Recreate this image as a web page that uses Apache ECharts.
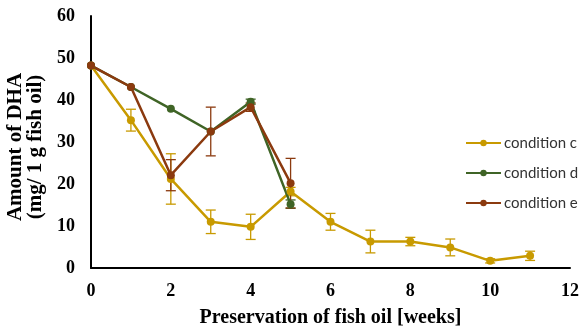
<!DOCTYPE html>
<html><head><meta charset="utf-8">
<script src="https://cdn.jsdelivr.net/npm/echarts@6/dist/echarts.min.js"></script>
<style>html,body{margin:0;padding:0;background:#fff}#c{width:582px;height:329px}</style>
</head><body><div id="c"></div>
<script>
var weeksC = [0,1,2,3,4,5,6,7,8,9,10,11];
var valuesC = [48.2,35.2,21.2,11.0,9.8,18.2,11.0,6.3,6.3,4.9,1.7,2.9];
var errC = [0,2.6,6.0,2.8,3.0,1.0,2.0,2.7,1.0,2.0,0.5,1.1];
var weeksD = [0,1,2,3,4,5];
var valuesD = [48.2,43.1,37.9,32.5,39.6,15.2];
var errD = [0,0,0,0,0.6,1.0];
var weeksE = [0,1,2,3,4,5];
var valuesE = [48.2,43.1,22.1,32.5,38.3,20.2];
var errE = [0,0,3.7,5.8,1.0,5.9];
var seriesNames = ['condition c','condition d','condition e'];
var colors = ['#C89A00','#3F6426','#8B3A0F'];
var xTicks = [0,2,4,6,8,10,12];
var yTicks = [0,10,20,30,40,50,60];

function pts(xs, ys){ return xs.map(function(x,i){return [x, ys[i]];}); }
function errPts(xs, ys, es){ return xs.map(function(x,i){return [x, ys[i]-es[i], ys[i]+es[i]];}); }
function errSeries(data, color){
  return {
    type:'custom', data:data, z:1, silent:true,
    renderItem:function(params, api){
      var x = api.value(0), lo = api.value(1), hi = api.value(2);
      if (hi - lo <= 0) return null;
      var p1 = api.coord([x, lo]), p2 = api.coord([x, hi]);
      var w = 5;
      var st = {stroke:color, lineWidth:1.3};
      return {type:'group', children:[
        {type:'line', shape:{x1:p1[0],y1:p1[1],x2:p2[0],y2:p2[1]}, style:st},
        {type:'line', shape:{x1:p1[0]-w,y1:p1[1],x2:p1[0]+w,y2:p1[1]}, style:st},
        {type:'line', shape:{x1:p2[0]-w,y1:p2[1],x2:p2[0]+w,y2:p2[1]}, style:st}
      ]};
    }
  };
}
function lineSeries(name, data, color){
  return {name:name, type:'line', data:data, symbol:'circle', symbolSize:8,
    itemStyle:{color:color}, lineStyle:{color:color, width:2.5}, z:2};
}
var chart = echarts.init(document.getElementById('c'));
var serif = '"Liberation Serif","Times New Roman",serif';
chart.setOption({
  animation:false,
  grid:{left:91, right:12, top:16, bottom:61, containLabel:false, outerBoundsMode:'none'},
  legend:{orient:'vertical', left:465, top:134, padding:0, itemGap:12, itemWidth:35, itemHeight:8,
    data:seriesNames,
    textStyle:{fontFamily:'Lato,"Liberation Sans",sans-serif', fontSize:15, color:'#333', padding:[0,0,0,-2], lineHeight:18}},
  xAxis:{type:'value', min:0, max:12, interval:2,
    axisLine:{lineStyle:{color:'#000', width:2}}, axisTick:{show:false}, splitLine:{show:false},
    axisLabel:{fontFamily:serif, fontWeight:'bold', fontSize:18, color:'#000', margin:14},
    name:'Preservation of fish oil [weeks]', nameLocation:'middle', nameGap:40,
    nameTextStyle:{fontFamily:serif, fontWeight:'bold', fontSize:20, color:'#000'}},
  yAxis:{type:'value', min:0, max:60, interval:10,
    axisLine:{show:true, lineStyle:{color:'#000', width:2}}, axisTick:{show:false}, splitLine:{show:false},
    axisLabel:{fontFamily:serif, fontWeight:'bold', fontSize:18, color:'#000', margin:16},
    name:'Amount of DHA\n(mg/ 1 g fish oil)', nameLocation:'middle', nameGap:38, nameRotate:90,
    nameTextStyle:{fontFamily:serif, fontWeight:'bold', fontSize:21, color:'#000', lineHeight:20, align:'center', padding:[0,10,0,0]}},
  series:[
    errSeries(errPts(weeksC, valuesC, errC), colors[0]),
    errSeries(errPts(weeksD, valuesD, errD), colors[1]),
    errSeries(errPts(weeksE, valuesE, errE), colors[2]),
    lineSeries(seriesNames[0], pts(weeksC, valuesC), colors[0]),
    lineSeries(seriesNames[1], pts(weeksD, valuesD), colors[1]),
    lineSeries(seriesNames[2], pts(weeksE, valuesE), colors[2])
  ]
});
</script></body></html>
